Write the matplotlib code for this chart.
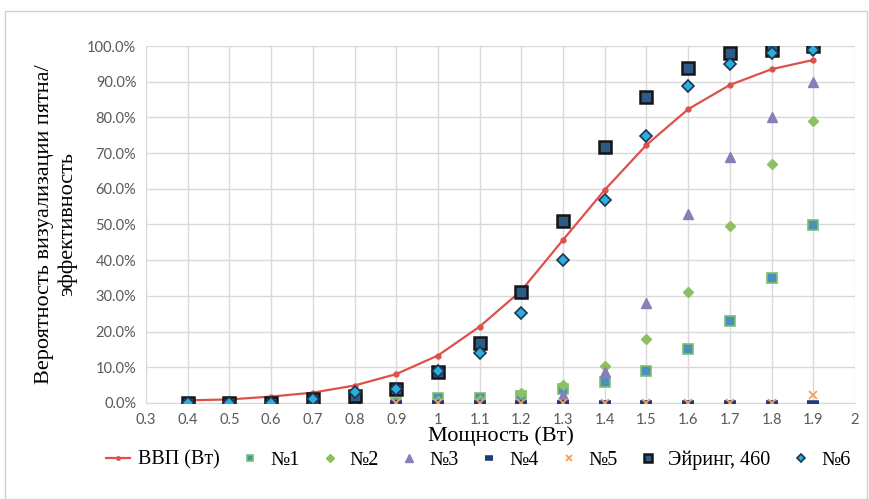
import matplotlib
matplotlib.use("Agg")
import matplotlib.pyplot as plt
from matplotlib.ticker import FuncFormatter, MultipleLocator
from matplotlib.patches import Rectangle

power = [0.4, 0.5, 0.6, 0.7, 0.8, 0.9, 1.0, 1.1, 1.2, 1.3, 1.4, 1.5, 1.6, 1.7, 1.8, 1.9]
vvp = [0.0075, 0.010, 0.018, 0.029, 0.049, 0.081, 0.133, 0.214, 0.315, 0.457, 0.597, 0.723, 0.823, 0.891, 0.935, 0.961]
s1 = [0, 0, 0, 0, 0, 0, 0.015, 0.015, 0.02, 0.038, 0.06, 0.09, 0.151, 0.23, 0.349, 0.50]
s2 = [0, 0, 0, 0, 0, 0, 0.005, 0.008, 0.029, 0.05, 0.104, 0.178, 0.31, 0.497, 0.669, 0.79]
s3 = [0, 0, 0, 0, 0, 0, 0, 0, 0, 0.022, 0.088, 0.279, 0.529, 0.69, 0.80, 0.90]
s4 = [0, 0, 0, 0, 0, 0, 0, 0, 0, 0, 0, 0, 0, 0, 0, 0]
s5 = [0, 0, 0, 0, 0, 0, 0, 0, 0, 0, 0, 0, 0, 0, 0, 0.022]
eyring = [0, 0, 0, 0.01, 0.02, 0.038, 0.088, 0.169, 0.31, 0.51, 0.718, 0.858, 0.937, 0.98, 0.989, 1.0]
s6 = [0, 0, 0, 0.01, 0.03, 0.038, 0.09, 0.139, 0.251, 0.40, 0.569, 0.748, 0.888, 0.949, 0.98, 0.989]

labels = ["ВВП (Вт)", "№1", "№2", "№3", "№4", "№5", "Эйринг, 460", "№6"]
xlabel = "Мощность (Вт)"
ylabel = "Вероятность визуализации пятна/\nэффективность"

fig = plt.figure(figsize=(8.69, 4.99), dpi=100)
ax = fig.add_axes([146/869, 1-403/499, (855-146)/869, (403-46)/499])

fig.patches.append(Rectangle((5/869, 0.0), 862/869, 1-11/499, transform=fig.transFigure,
                             fill=False, edgecolor="#D0D0D0", linewidth=1.0))

ax.plot(power, vvp, color="#E0504A", lw=1.6, marker="o", ms=3.5, mfc="#E0504A", mec="#E0504A",
        label=labels[0], zorder=3)
ax.plot(power, s1, ls="none", marker="s", ms=7, mfc="#4A8FBF", mec="#7CC266", mew=1.2,
        label=labels[1], zorder=4)
ax.plot(power, s2, ls="none", marker="D", ms=5.5, mfc="#8DC060", mec="#8DC060",
        label=labels[2], zorder=4)
ax.plot(power, s3, ls="none", marker="^", ms=7.5, mfc="#8A7DB8", mec="#8A7DB8",
        label=labels[3], zorder=4)
ax.plot(power, s4, ls="none", marker="_", ms=9, mec="#1F3A80", mew=4,
        label=labels[4], zorder=5)
ax.plot(power, s5, ls="none", marker="x", ms=6, mec="#F5A05A", mew=1.3,
        label=labels[5], zorder=5)
ax.plot(power, eyring, ls="none", marker="s", ms=8.5, mfc="#2E5A86", mec="#151515", mew=1.8,
        label=labels[6], zorder=6)
ax.plot(power, s6, ls="none", marker="D", ms=6, mfc="#2AAEDD", mec="#1E3550", mew=1.2,
        label=labels[7], zorder=7)

ax.set_xlim(0.3, 2.0)
ax.set_ylim(0, 1.0)
ax.xaxis.set_major_locator(MultipleLocator(0.1))
ax.yaxis.set_major_locator(MultipleLocator(0.1))
ax.yaxis.set_major_formatter(FuncFormatter(lambda v, p: f"{v*100:.1f}%"))
ax.xaxis.set_major_formatter(FuncFormatter(lambda v, p: (f"{v:.1f}".rstrip("0").rstrip(".") if abs(v - round(v)) > 1e-9 else str(int(round(v))))))
ax.grid(True, color="#D9D9D9", lw=1.0)
ax.set_axisbelow(True)
for s in ["top", "right", "left"]:
    ax.spines[s].set_visible(False)
ax.spines["bottom"].set_color("#D9D9D9")
ax.tick_params(length=0, colors="#595959", labelsize=10.5, pad=7)
for t in ax.get_xticklabels() + ax.get_yticklabels():
    t.set_fontfamily("Lato")

ax.set_xlabel(xlabel, fontfamily="Liberation Serif", fontsize=16, labelpad=0)
ax.set_ylabel(ylabel, fontfamily="Liberation Serif", fontsize=16, labelpad=7,
              linespacing=1.25, multialignment="center")

leg = fig.legend(loc="center", bbox_to_anchor=(0.55, 0.078), ncol=8, frameon=False,
                 prop={"family": "Liberation Serif", "size": 14.5}, handlelength=1.2,
                 handletextpad=0.4, columnspacing=0.9, markerscale=0.7)

fig.savefig("out.png", dpi=100)
